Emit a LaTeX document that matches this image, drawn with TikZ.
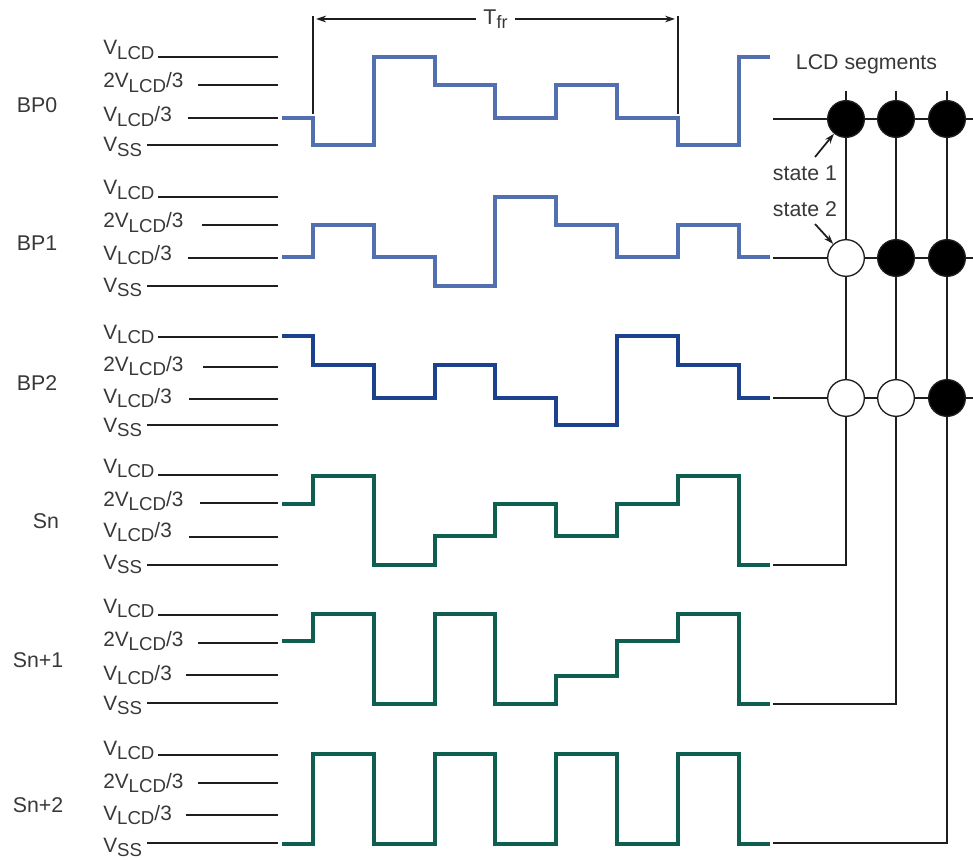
\documentclass[tikz,border=0pt]{standalone}
\usepackage{fontspec}
\setmainfont{Liberation Sans}
\usetikzlibrary{arrows.meta}
\definecolor{txt}{HTML}{383838}
\definecolor{wblue}{HTML}{5270B0}
\definecolor{wdark}{HTML}{1B418F}
\definecolor{wgreen}{HTML}{0F5F50}
\definecolor{ln}{HTML}{1E1E1E}
\newcommand{\Vsym}{V}
\newcommand{\Lsub}[1]{\raisebox{-3.5pt}{\fontsize{14pt}{15pt}\selectfont #1}}
\newcommand{\VL}{\Vsym\Lsub{LCD}}
\tikzset{
  lab/.style={inner sep=0pt,text=txt,font=\fontsize{16pt}{17pt}\selectfont},
  lev/.style={inner sep=0pt,text=txt,font=\fontsize{15.6pt}{16pt}\selectfont,anchor=base west},
  rail/.style={draw=ln,line width=1.5pt},
  wire/.style={draw=ln,line width=1.4pt},
  waveA/.style={draw=wblue,line width=2.3pt,line join=miter},
  waveB/.style={draw=wdark,line width=2.7pt,line join=miter},
  waveC/.style={draw=wgreen,line width=2.7pt,line join=miter},
  segon/.style={circle,draw=ln,fill=black,line width=1pt,minimum size=27.5pt,inner sep=0pt},
  segoff/.style={circle,draw=ln,fill=white,line width=1pt,minimum size=27.5pt,inner sep=0pt},
  tip/.style={-{Stealth[length=7.5pt,width=5pt]},draw=ln,line width=1.3pt},
}
\newcommand{\levels}[7]{%
  \coordinate (#1e) at (278,#2); \coordinate (#1f) at (278,#3);
  \coordinate (#1g) at (278,#4); \coordinate (#1h) at (278,#5);
  \draw[rail] (158,#2) -- (#1e);
  \draw[rail] (#6,#3) -- (#1f);
  \draw[rail] (#7,#4) -- (#1g);
  \draw[rail] (147,#5) -- (#1h);
}
\newcommand{\levtext}[5]{%
  \node[lev] (#1a) at (103,#2) {\VL};
  \node[lev] (#1b) at (103,#3) {2\VL/3};
  \node[lev] (#1c) at (103,#4) {\VL/3};
  \node[lev] (#1d) at (103,#5) {\Vsym\Lsub{SS}};
}
\begin{document}
\begin{tikzpicture}[x=0.75pt,y=-0.75pt]
\useasboundingbox (0,0) rectangle (973,859);

\node[lab] (bp0) at (37,105) {BP0};
\node[lab] (bp1) at (37,243) {BP1};
\node[lab] (bp2) at (37,383) {BP2};
\node[lab] (sn) at (46,521) {Sn};
\node[lab] (sn1) at (38,660) {Sn+1};
\node[lab] (sn2) at (38,805) {Sn+2};

\levels{p}{57}{85}{118}{145}{198}{188}
\levels{q}{197}{225}{258}{286}{202}{188}
\levels{r}{337}{367}{399}{425}{203}{189}
\levels{s}{475}{503}{537}{565}{200}{189}
\levels{t}{615}{643}{675}{703}{198}{186}
\levels{u}{755}{783}{815}{843}{198}{186}

\levtext{p}{55}{88}{122}{152}
\levtext{q}{195}{228}{260}{292}
\levtext{r}{339}{371}{403}{432}
\levtext{s}{473}{506}{537}{569}
\levtext{t}{613}{646}{680}{710}
\levtext{u}{755}{788}{820}{852}

% waveforms
\path[waveA] (282,118) -| (313,145) -| (374,57) -| (435,85) -| (495,118) -| (556,85) -| (617,118) -| (678,145) -| (739,57) -- (770,57);
\path[waveA] (282,257) -| (313,225) -| (374,257) -| (435,286) -| (495,197) -| (556,225) -| (617,257) -| (678,225) -| (739,257) -- (770,257);
\path[waveB] (282,336) -| (313,365) -| (374,398) -| (435,365) -| (495,398) -| (556,425) -| (617,336) -| (678,365) -| (739,398) -- (770,398);
\path[waveC] (282,504) -| (313,476) -| (374,565) -| (435,536) -| (495,504) -| (556,536) -| (617,504) -| (678,476) -| (739,565) -- (770,565);
\path[waveC] (282,641) -| (313,614) -| (374,704) -| (435,614) -| (495,704) -| (556,676) -| (617,641) -| (678,614) -| (739,704) -- (770,704);
\path[waveC] (282,844) -| (313,754) -| (374,844) -| (435,754) -| (495,844) -| (556,754) -| (617,844) -| (678,754) -| (739,844) -- (770,844);

% frame period
\node[lab,anchor=base] (tfr) at (495.5,25) {T\raisebox{-3pt}{\fontsize{13.5pt}{14pt}\selectfont fr}};
\coordinate (t0) at (313,16); \coordinate (t0b) at (313,114);
\coordinate (t1) at (678,16); \coordinate (t1b) at (678,114);
\coordinate (ta) at (316,19); \coordinate (tb) at (675,19);
\draw[wire] (t0) -- (t0b);
\draw[wire] (t1) -- (t1b);
\draw[tip,shorten <=5.25pt] (tfr.west |- ta) -- (ta);
\draw[tip,shorten <=5.25pt] (tfr.east |- tb) -- (tb);

% LCD matrix
\coordinate (h1) at (773,119); \coordinate (h1e) at (973,119);
\coordinate (h2) at (773,258); \coordinate (h2e) at (973,258);
\coordinate (h3) at (773,398); \coordinate (h3e) at (973,398);
\draw[wire] (h1) -- (h1e);
\draw[wire] (h2) -- (h2e);
\draw[wire] (h3) -- (h3e);
\coordinate (v1) at (846,91); \coordinate (v2) at (896,91); \coordinate (v3) at (947,91);
\coordinate (w1) at (773,565); \coordinate (w2) at (773,704); \coordinate (w3) at (773,843);

\node[segon]  (c11) at (846,119) {};
\node[segon]  (c12) at (896,119) {};
\node[segon]  (c13) at (947,119) {};
\node[segoff] (c21) at (846,258) {};
\node[segon]  (c22) at (896,258) {};
\node[segon]  (c23) at (947,258) {};
\node[segoff] (c31) at (846,398) {};
\node[segoff] (c32) at (896,398) {};
\node[segon]  (c33) at (947,398) {};

\draw[wire] (v1) -- (c11);
\draw[wire] (v2) -- (c12);
\draw[wire] (v3) -- (c13);
\draw[wire] (c11) -- (c21);
\draw[wire] (c21) -- (c31);
\draw[wire] (c12) -- (c22);
\draw[wire] (c22) -- (c32);
\draw[wire] (c13) -- (c23);
\draw[wire] (c23) -- (c33);
\draw[wire] (c31) |- (w1);
\draw[wire] (c32) |- (w2);
\draw[wire] (c33) |- (w3);

\node[lab] (lcd) at (866.5,64) {LCD segments};
\node[lab] (st1) at (805,173) {state 1};
\node[lab] (st2) at (805,209) {state 2};
\coordinate (a1) at (815,157); \coordinate (a2) at (815,224);
\draw[tip] (a1) -- (c11);
\draw[tip] (a2) -- (c21);
\end{tikzpicture}
\end{document}
